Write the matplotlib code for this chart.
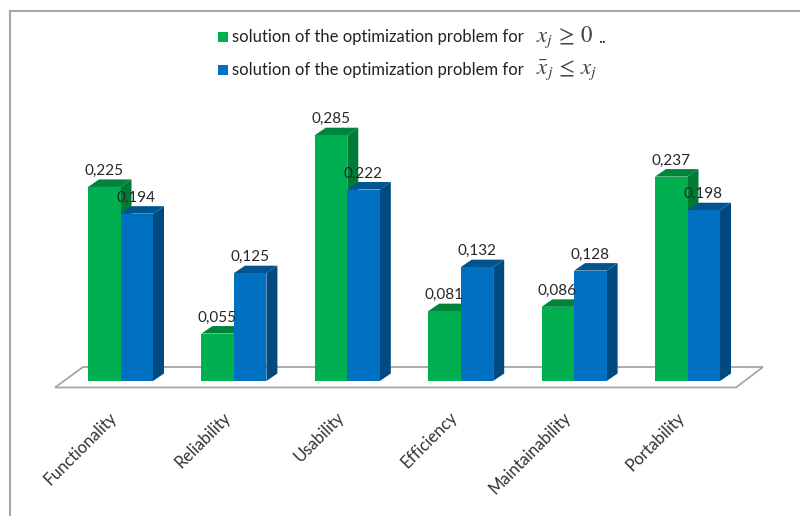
import matplotlib
matplotlib.use("Agg")
import matplotlib.pyplot as plt
from matplotlib.lines import Line2D
from matplotlib.patches import Polygon, Rectangle

plt.rcParams['font.family'] = ['Lato', 'DejaVu Sans']
plt.rcParams['mathtext.fontset'] = 'stix'

categories = ['Functionality', 'Reliability', 'Usability', 'Efficiency', 'Maintainability', 'Portability']
values_nonneg = [0.225, 0.055, 0.285, 0.081, 0.086, 0.237]
values_bound = [0.194, 0.125, 0.222, 0.132, 0.128, 0.198]

W, H = 800, 516
X0, DX = 120.5, 113.4      # pixel position of first group, spacing of groups
Y0, SY = 381.0, 862.5      # pixel row of the baseline, pixels per unit

BAR_W = 32.5 / DX
DEPTH_X = 11 / DX
DEPTH_Y = 7.5 / SY

GREEN = ('#00B050', '#00843C', '#007B36')
BLUE = ('#0070C0', '#00548F', '#004A80')

fig = plt.figure(figsize=(W / 100, H / 100), dpi=100)
ax = fig.add_axes([0, 0, 1, 1])
ax.set_xlim(-X0 / DX, (W - X0) / DX)
ax.set_ylim(-(H - Y0) / SY, Y0 / SY)
ax.axis('off')


def px(x, y):
    """pixel coordinates (y from the top) to data coordinates"""
    return (x - X0) / DX, (Y0 - y) / SY


# floor of the 3D chart
floor = [px(55, 387.5), px(83, 367), px(763, 367), px(736, 387.5)]
ax.add_patch(Polygon(floor, closed=True, fc='white', ec='#A6A6A6', lw=1.3, zorder=1))


def draw_bars(i, left, val, colors):
    right = left + BAR_W
    top = [(left, val), (left + DEPTH_X, val + DEPTH_Y), (right + DEPTH_X, val + DEPTH_Y), (right, val)]
    side = [(right, 0), (right + DEPTH_X, DEPTH_Y), (right + DEPTH_X, val + DEPTH_Y), (right, val)]
    z = 2 + i * 0.1
    ax.add_patch(Polygon(side, closed=True, fc=colors[2], ec='none', zorder=z))
    ax.add_patch(Polygon(top, closed=True, fc=colors[1], ec='none', zorder=z))
    ax.bar(left, val, width=BAR_W, align='edge', color=colors[0], zorder=z + 0.01)


for i, (name, a, b) in enumerate(zip(categories, values_nonneg, values_bound)):
    draw_bars(i, i - BAR_W, a, GREEN)
    draw_bars(i + 0.05, i, b, BLUE)
    ax.text(i - BAR_W + 0.14, a + 0.0105, f'{a:.3f}'.replace('.', ','), ha='center', va='bottom',
            fontsize=11, color='#262626', zorder=5)
    ax.text(i + 0.14, b + 0.0105, f'{b:.3f}'.replace('.', ','), ha='center', va='bottom',
            fontsize=11, color='#262626', zorder=5)
    # rotated category label, anchored at its upper right end
    lx, ly = px(109 + i * DX, 409)
    ax.text(lx, ly, name, rotation=45, rotation_mode='anchor', ha='right', va='top',
            fontsize=12, color='#333333')

# legend
legend_rows = [
    (GREEN[0], 37, 'solution of the optimization problem for', r'$x_j\/\geq\/0$', '..'),
    (BLUE[0], 70, 'solution of the optimization problem for', r'$\bar{x}_j\/\leq\/x_j$', ''),
]
for color, row, label, cond, tail in legend_rows:
    x, y = px(218, row + 5)
    ax.add_patch(Rectangle((x, y), 10 / DX, 9.5 / SY, fc=color, ec='none'))
    ax.text(*px(232, row), label, ha='left', va='center', fontsize=12, color='#222222')
    ax.text(*px(536, row), cond, ha='left', va='center', fontsize=16.5, color='#444444')
    if tail:
        ax.text(*px(598, row + 1), tail, ha='left', va='center', fontsize=12, color='#222222')

# chart frame
frame = dict(color='#A6A6A6', lw=1.5, transform=ax.transData)
fig.add_artist(Line2D(*zip(px(10, 11), px(800, 11)), **frame))
fig.add_artist(Line2D(*zip(px(10, 11), px(10, 516)), **frame))

fig.savefig('out.png', dpi=100)
